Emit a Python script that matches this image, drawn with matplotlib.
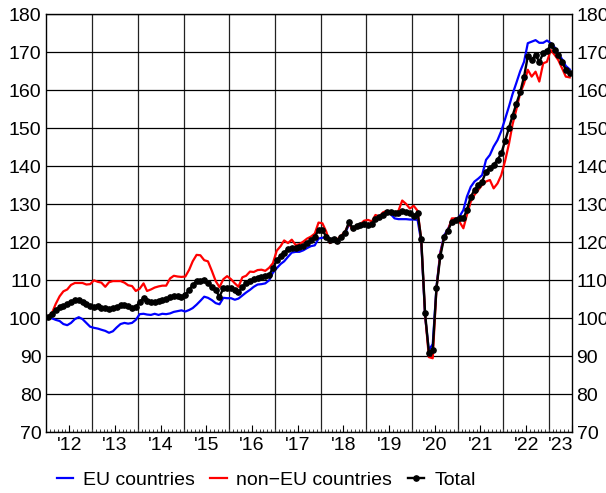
import matplotlib
matplotlib.use("Agg")
import matplotlib.pyplot as plt
import matplotlib.dates as mdates
import pandas as pd

plt.rcParams["font.family"] = ["Liberation Sans", "DejaVu Sans"]

# monthly index values, Jan 2012 - Jun 2023
months = pd.date_range("2012-01-01", "2023-06-01", freq="MS") + pd.Timedelta(days=14)

eu = [
    100.4, 100.0, 99.6, 99.3, 98.5, 98.2, 98.8, 99.8, 100.3, 99.8, 98.8, 97.8,
    97.5, 97.3, 97.0, 96.7, 96.2, 96.6, 97.6, 98.5, 98.8, 98.6, 98.8, 99.6,
    101.1, 101.2, 101.0, 100.9, 101.2, 100.9, 101.2, 101.1, 101.3, 101.7, 101.9, 102.1,
    101.8, 102.2, 102.7, 103.6, 104.6, 105.7, 105.4, 104.8, 104.0, 103.7, 105.4, 105.3,
    105.3, 104.9, 105.2, 106.0, 106.8, 107.5, 108.3, 108.9, 109.0, 109.2, 110.0, 112.0,
    113.2, 114.3, 115.0, 116.2, 117.3, 117.5, 117.5, 117.9, 118.5, 119.0, 119.2, 121.0,
    121.2, 121.4, 121.0, 120.5, 120.4, 121.3, 122.3, 124.7, 123.7, 124.0, 124.2, 124.3,
    124.3, 124.8, 125.8, 126.5, 127.2, 127.9, 127.4, 126.3, 126.1, 126.1, 126.1, 126.0,
    126.0, 125.9, 120.2, 100.4, 91.7, 93.2, 108.3, 117.5, 121.9, 123.5, 125.7, 126.0,
    126.8, 128.5, 132.0, 134.6, 136.0, 136.8, 137.7, 141.7, 143.0, 145.2, 146.9, 149.3,
    152.5, 155.8, 159.0, 162.0, 165.0, 167.5, 172.4, 172.8, 173.2, 172.5, 172.5, 173.1,
    172.4, 171.3, 169.7, 168.2, 166.4, 165.5,
]

non_eu = [
    100.4, 101.5, 103.8, 105.8, 107.1, 107.6, 108.8, 109.3, 109.3, 109.3, 108.9, 109.0,
    110.0, 109.6, 109.4, 108.3, 109.5, 109.8, 109.8, 109.8, 109.4, 108.7, 108.5, 107.2,
    107.8, 109.2, 107.2, 107.6, 108.1, 108.4, 108.6, 108.6, 110.5, 111.2, 111.0, 110.9,
    111.0, 112.8, 115.0, 116.7, 116.6, 115.3, 115.0, 112.5, 109.8, 108.2, 110.3, 111.1,
    110.3, 109.2, 108.3, 110.8, 111.2, 112.3, 112.2, 112.7, 112.8, 112.5, 113.3, 114.5,
    117.8, 119.0, 120.5, 119.8, 120.7, 119.3, 119.5, 120.2, 121.0, 121.5, 122.3, 125.2,
    125.0, 122.8, 119.8, 120.5, 120.8, 121.8, 122.8, 125.0, 123.2, 124.4, 124.8, 125.7,
    125.9, 125.5, 127.2, 126.8, 127.9, 128.3, 128.0, 127.6, 128.3, 131.0, 130.1, 128.9,
    129.6, 128.3, 120.8, 101.0, 89.8, 89.5, 107.9, 117.1, 121.5, 123.2, 126.3, 126.3,
    125.4, 123.7, 127.2, 130.7, 132.5, 133.8, 135.1, 136.0, 136.4, 134.2, 135.5, 137.7,
    141.5, 146.0, 151.0, 155.0, 159.2, 161.8, 165.4, 163.6, 164.9, 162.3, 167.1, 167.5,
    170.6, 169.3, 168.0, 165.8, 163.6, 163.4,
]

total = [
    100.4, 101.2, 102.2, 102.9, 103.3, 103.7, 104.3, 104.9, 104.9, 104.3, 103.8, 103.3,
    103.0, 103.2, 102.6, 102.8, 102.5, 102.8, 103.1, 103.4, 103.5, 103.3, 102.7, 103.0,
    104.3, 105.3, 104.5, 104.2, 104.4, 104.6, 104.8, 105.1, 105.5, 105.8, 106.0, 105.7,
    106.2, 107.5, 108.8, 109.7, 109.9, 110.1, 109.4, 108.2, 107.4, 105.7, 107.9, 108.0,
    108.0, 107.4, 106.8, 108.3, 109.2, 109.8, 110.3, 110.5, 110.8, 111.1, 111.4, 113.2,
    115.3, 116.5, 117.3, 118.2, 118.4, 118.6, 118.9, 119.1, 119.7, 120.5, 121.4, 123.3,
    123.2, 121.5, 120.5, 120.8, 120.4, 121.5, 122.5, 125.3, 123.7, 124.3, 124.6, 124.9,
    124.6, 124.7, 126.1, 126.6, 127.3, 128.0, 128.1, 127.8, 127.6, 128.2, 127.9, 127.6,
    127.0, 127.8, 120.8, 101.3, 91.0, 91.8, 108.0, 116.4, 121.5, 123.1, 125.4, 125.9,
    126.3, 126.3, 128.5, 132.0, 133.8, 135.1, 136.0, 138.6, 139.5, 140.4, 141.7, 143.4,
    146.7, 150.2, 153.3, 156.5, 159.5, 163.6, 168.9, 168.0, 169.3, 167.5, 169.7, 170.4,
    171.9, 170.6, 169.3, 167.5, 165.4, 164.6,
]

years = list(range(2012, 2024))
year_labels = ["'12", "'13", "'14", "'15", "'16", "'17", "'18", "'19", "'20", "'21", "'22", "'23"]

x_start = pd.Timestamp("2012-01-01")
x_end = pd.Timestamp("2023-07-01")

fig = plt.figure(figsize=(6.06, 4.93), dpi=100)
ax = fig.add_axes([0.0767, 0.123, 0.8667, 0.848])

ax.plot(months, eu, color="#0000ff", lw=1.6, label="EU countries", zorder=3)
ax.plot(months, non_eu, color="#ff0000", lw=1.6, label="non\u2212EU countries", zorder=4)
ax.plot(months, total, color="black", lw=1.7, marker="o", markersize=3.8,
        label="Total", zorder=5)

ax.set_xlim(x_start, x_end)
ax.set_ylim(70, 180)
ax.set_yticks(range(70, 181, 10))
ax.grid(True, axis="y", color="black", lw=0.9)

# year boundaries as vertical grid lines
for yr in years[1:]:
    ax.axvline(pd.Timestamp(f"{yr}-01-01"), color="#222222", lw=0.9, zorder=1)

# ticks: monthly minor, mid-year major, pointing inward
ax.xaxis.set_major_locator(mdates.MonthLocator(bymonth=7))
ax.xaxis.set_minor_locator(mdates.MonthLocator())
ax.tick_params(axis="x", which="major", direction="in", length=5, width=0.8,
               labelbottom=False)
ax.tick_params(axis="x", which="minor", direction="in", length=2.4, width=0.7,
               color="#444444")
ax.tick_params(axis="y", length=0, labelsize=14, labelright=True, pad=3.5)

# year labels centred in the visible part of each year
centres = []
for yr in years:
    a = max(pd.Timestamp(f"{yr}-01-01"), x_start)
    b = min(pd.Timestamp(f"{yr + 1}-01-01"), x_end)
    centres.append(a + (b - a) / 2)
sec = ax.secondary_xaxis("bottom")
sec.set_xticks(centres)
sec.set_xticklabels(year_labels)
sec.tick_params(length=0, labelsize=14, pad=3)
sec.spines["bottom"].set_visible(False)

for s in ax.spines.values():
    s.set_color("black")
    s.set_linewidth(1.0)

ax.legend(loc="center", bbox_to_anchor=(0.418, -0.115), ncol=3, frameon=False,
          fontsize=14, handlelength=0.85, handletextpad=0.5, columnspacing=0.8)

fig.savefig("out.png", dpi=100)
